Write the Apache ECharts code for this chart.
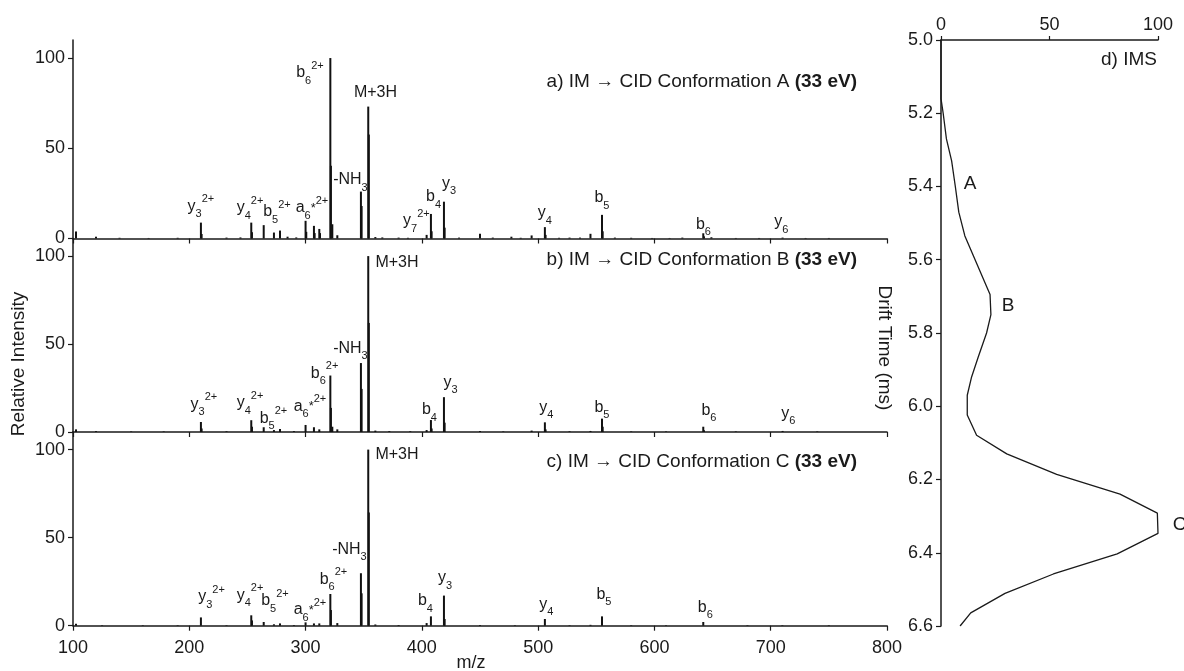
<!DOCTYPE html>
<html>
<head>
<meta charset="utf-8">
<title>IM-CID spectra</title>
<script src="https://cdn.jsdelivr.net/npm/echarts@6/dist/echarts.min.js"></script>
<style>
  html, body { margin: 0; padding: 0; background: #fff; }
  #chart { width: 1184px; height: 671px; }
</style>
</head>
<body>
<div id="chart"></div>
<script>
// sticks of each spectrum: m/z and relative intensity (%)
const mzA = [102.6, 119.8, 140, 165, 190, 210.0, 210.6, 232, 244, 253.3, 253.9, 264.0, 272.8, 278.0, 284.5, 292,
  300.0, 300.6, 307.2, 307.8, 311.8, 312.4, 321.3, 321.8, 323.0, 327.3, 347.6, 348.2, 353.9, 354.4, 360, 366, 380, 388,
  404.1, 407.8, 408.4, 419.0, 419.6, 432, 450.0, 461, 477.0, 485, 494.4, 505.8, 506.4, 518, 527.0, 536, 545.0,
  554.9, 555.5, 566, 580, 598, 613, 624, 642.0, 642.6, 649, 670, 690, 710.2, 730, 750];
const intA = [3.9, 1.0, 0.4, 0.3, 0.4, 8.8, 2.5, 0.5, 0.6, 8.8, 3.5, 7.4, 3.3, 4.4, 1.0, 0.6,
  9.8, 3.7, 7.0, 3.0, 5.3, 3.0, 100, 40.3, 7.9, 1.8, 26, 18, 73.1, 57.6, 0.8, 0.6, 0.5, 0.4,
  2.0, 13.6, 4.0, 20.4, 6.0, 0.5, 2.6, 0.5, 1.0, 0.4, 1.7, 6.3, 2.0, 0.4, 0.5, 0.5, 2.6,
  13.1, 4.0, 0.5, 0.4, 0.3, 0.3, 0.5, 2.9, 1.2, 0.7, 0.3, 0.3, 0.5, 0.3, 0.3];

const mzB = [102.6, 119.8, 150, 178, 210.0, 210.6, 232, 253.3, 253.9, 264.0, 272.8, 278.0, 290, 300.0, 307.2, 311.8,
  321.3, 321.8, 323, 327.3, 347.6, 348.2, 353.9, 354.4, 360, 372, 390, 404.1, 407.8, 408.4, 419.0, 419.6, 450.0, 470,
  494.4, 505.8, 506.4, 527, 545, 554.9, 555.5, 580, 610, 642.0, 642.6, 670, 710.2, 740];
const intB = [1.5, 0.5, 0.3, 0.3, 5.7, 2, 0.4, 6.7, 3, 2.7, 1.1, 1.7, 0.5, 4.0, 2.7, 1.5,
  32.1, 13.7, 3, 1.5, 39.2, 24.5, 100, 62, 0.8, 0.5, 0.4, 1.1, 6.8, 2, 19.8, 5.3, 0.6, 0.3,
  0.8, 5.5, 1.5, 0.4, 0.6, 7.6, 3.0, 0.3, 0.3, 3.0, 1.0, 0.3, 0.6, 0.3];

const mzC = [102.6, 125, 160, 190, 210.0, 232, 253.3, 253.9, 264.0, 272.8, 278.0, 290, 300.0, 307.2, 311.8,
  321.3, 321.8, 327.3, 347.6, 348.2, 353.9, 354.4, 360, 380, 404.1, 407.8, 419.0, 419.6, 450, 480,
  505.8, 527, 545, 554.9, 580, 610, 642.0, 680, 710, 750];
const intC = [1.1, 0.3, 0.3, 0.3, 4.7, 0.3, 5.9, 3.0, 2.1, 0.8, 1.3, 0.4, 1.9, 1.3, 1.3,
  18, 8.9, 1.5, 29.8, 18.4, 100, 64.3, 0.7, 0.4, 1.5, 5.3, 17.1, 3.8, 0.4, 0.3,
  3.8, 0.3, 0.5, 5.3, 0.3, 0.3, 2.1, 0.3, 0.3, 0.3];

// ion annotations: [ion, subscript, superscript, m/z, intensity at the label]
const ionsA = [
  ['y', '3', '2+', 210, 17.5], ['y', '4', '2+', 252.2, 16.9], ['b', '5', '2+', 275.4, 14.7],
  ['a', '6', '*2+', 305.5, 16.9], ['b', '6', '2+', 303.8, 91.7], ['-NH', '3', '', 338.6, 32.4],
  ['M+3H', '', '', 360.1, 81], ['y', '7', '2+', 395.3, 9.7], ['b', '4', '', 410, 23],
  ['y', '3', '', 423.3, 30.7], ['y', '4', '', 505.8, 14.1], ['b', '5', '', 554.9, 22.4],
  ['b', '6', '', 642.1, 7.5], ['y', '6', '', 709.2, 9.1]
];
const ionsB = [
  ['y', '3', '2+', 212.6, 15.4], ['y', '4', '2+', 252.2, 16.5], ['b', '5', '2+', 272.4, 7.7],
  ['a', '6', '*2+', 303.8, 14.3], ['b', '6', '2+', 316.3, 33.4], ['-NH', '3', '', 338.6, 47.6],
  ['M+3H', '', '', 378.6, 96.4], ['b', '4', '', 406.5, 12.5], ['y', '3', '', 424.6, 28],
  ['y', '4', '', 507.1, 13.7], ['b', '5', '', 554.9, 13.7], ['b', '6', '', 646.9, 12],
  ['y', '6', '', 715.2, 10.3]
];
const ionsC = [
  ['y', '3', '2+', 219.1, 16.3], ['y', '4', '2+', 252.2, 16.9], ['b', '5', '2+', 273.7, 14],
  ['a', '6', '*2+', 303.8, 8.9], ['b', '6', '2+', 324, 26.3], ['-NH', '3', '', 337.7, 43.1],
  ['M+3H', '', '', 378.6, 97.2], ['b', '4', '', 403.1, 14], ['y', '3', '', 419.9, 27.1],
  ['y', '4', '', 507.1, 11.8], ['b', '5', '', 556.6, 17.5], ['b', '6', '', 643.8, 10.1]
];

const panelTitles = ['A', 'B', 'C'];
const intensityTicks = [0, 50, 100];

// d) IMS arrival time distribution: intensity (%) vs drift time (ms)
const imsPct = [0, 0, 1, 2.5, 4.9, 6.6, 8.2, 11, 22.6, 23, 21, 17.2, 14.1, 12.1, 12.1, 16.4,
  30.3, 53.3, 82.5, 99.7, 100, 81.2, 51.8, 29.5, 13.7, 8.8];
const imsTime = [5.0, 5.16, 5.2, 5.27, 5.33, 5.4, 5.47, 5.535, 5.695, 5.75, 5.8, 5.865, 5.92, 5.97, 6.024, 6.079,
  6.13, 6.186, 6.24, 6.292, 6.347, 6.403, 6.458, 6.511, 6.564, 6.6];
const confNames = ['A', 'B', 'C'];
const confPct = [13.4, 30.9, 110];
const confTime = [5.393, 5.726, 6.324];

const font = '"Liberation Sans", Arial, Helvetica, sans-serif';
const ink = '#1a1a1a';

const chart = echarts.init(document.getElementById('chart'));

const grids = [
  { left: 73, width: 814, top: 40, height: 198.5 },
  { left: 73, width: 814, top: 238.5, height: 193.5 },
  { left: 73, width: 814, top: 432, height: 193.7 },
  { left: 941, width: 217, top: 40, height: 586 }
];

const xAxes = [0, 1, 2].map(i => ({
  type: 'value', gridIndex: i, min: 100, max: 800, interval: 100,
  axisLine: { onZero: false, lineStyle: { color: ink, width: 1.5 } },
  axisTick: { length: 5, lineStyle: { color: ink, width: 1.2 } },
  axisLabel: { show: i === 2, color: ink, fontSize: 18, fontFamily: font, margin: 13 },
  splitLine: { show: false }
}));
xAxes.push({
  type: 'value', gridIndex: 3, position: 'top', min: 0, max: 100, interval: 50,
  axisLine: { onZero: false, lineStyle: { color: ink, width: 1.5 } },
  axisTick: { length: 4, lineStyle: { color: ink, width: 1.2 } },
  axisLabel: { color: ink, fontSize: 18, fontFamily: font, margin: 6 },
  splitLine: { show: false }
});

const yAxes = [0, 1, 2].map(i => ({
  type: 'value', gridIndex: i, min: 0, max: 110,
  axisLine: { show: true, onZero: false, lineStyle: { color: ink, width: 1.5 } },
  axisTick: { show: true, length: 5, customValues: intensityTicks, lineStyle: { color: ink, width: 1.2 } },
  axisLabel: { color: ink, fontSize: 18, fontFamily: font, margin: 8, customValues: intensityTicks },
  splitLine: { show: false }
}));
yAxes.push({
  type: 'value', gridIndex: 3, inverse: true, min: 5.0, max: 6.6, interval: 0.2,
  axisLine: { show: true, onZero: false, lineStyle: { color: ink, width: 1.5 } },
  axisTick: { show: true, length: 5, lineStyle: { color: ink, width: 1.2 } },
  axisLabel: { color: ink, fontSize: 18, fontFamily: font, margin: 8, formatter: v => v.toFixed(1) },
  splitLine: { show: false }
});

const plain = { color: ink, fontFamily: font, textBorderWidth: 0, textShadowBlur: 0 };
const ionRich = {
  m: Object.assign({ fontSize: 16, lineHeight: 26 }, plain),
  sub: Object.assign({ fontSize: 11, lineHeight: 16, verticalAlign: 'bottom' }, plain),
  sup: Object.assign({ fontSize: 11, lineHeight: 5, verticalAlign: 'top' }, plain),
  star: Object.assign({ fontSize: 13, lineHeight: 26, verticalAlign: 'middle' }, plain)
};

function ionText(ion) {
  const [name, sub, sup] = ion;
  let s = '{m|' + name + '}';
  if (sub) s += '{sub|' + sub + '}';
  if (sup) {
    if (sup[0] === '*') s += '{star|*}{sup|' + sup.slice(1) + '}';
    else s += '{sup|' + sup + '}';
  }
  return s;
}

const spectra = [[mzA, intA, ionsA], [mzB, intB, ionsB], [mzC, intC, ionsC]];
const series = [];
spectra.forEach(([mz, inten, ions], i) => {
  series.push({
    type: 'bar', xAxisIndex: i, yAxisIndex: i, barWidth: 2,
    itemStyle: { color: '#111' },
    data: mz.map((m, k) => [m, inten[k]])
  });
  series.push({
    type: 'scatter', xAxisIndex: i, yAxisIndex: i, symbolSize: 0, silent: true, clip: false,
    itemStyle: { opacity: 1, color: ink },
    label: Object.assign({
      show: true, position: 'inside', opacity: 1,
      formatter: p => ionText(p.data.ion), rich: ionRich
    }, plain),
    data: ions.map(ion => ({ value: [ion[3], ion[4]], ion: ion }))
  });
});

series.push({
  type: 'line', xAxisIndex: 3, yAxisIndex: 3, symbol: 'none',
  lineStyle: { color: ink, width: 1.3 },
  data: imsPct.map((p, k) => [p, imsTime[k]])
});
series.push({
  type: 'scatter', xAxisIndex: 3, yAxisIndex: 3, symbolSize: 0, silent: true, clip: false,
  itemStyle: { opacity: 1, color: ink },
  label: Object.assign({ show: true, position: 'inside', opacity: 1, fontSize: 19, formatter: p => p.name }, plain),
  data: confNames.map((n, k) => ({ name: n, value: [confPct[k], confTime[k]] }))
});

const titleRich = { b: { fontWeight: 'bold', fontSize: 19, fontFamily: font, fill: ink } };
const titleY = [82, 260, 462];
const graphics = panelTitles.map((c, i) => ({
  type: 'text', right: 327, top: titleY[i] - 10,
  style: {
    text: String.fromCharCode(97 + i) + ') IM \u2192 CID Conformation ' + c + ' {b|(33 eV)}',
    fontSize: 19, fontFamily: font, fill: ink, rich: titleRich
  }
}));
graphics.push(
  { type: 'text', x: 19, y: 364, rotation: Math.PI / 2,
    style: { text: 'Relative Intensity', fontSize: 19, fontFamily: font, fill: ink, align: 'center', verticalAlign: 'middle' } },
  { type: 'text', x: 884, y: 348, rotation: -Math.PI / 2,
    style: { text: 'Drift Time (ms)', fontSize: 19, fontFamily: font, fill: ink, align: 'center', verticalAlign: 'middle' } },
  { type: 'text', x: 471, y: 663,
    style: { text: 'm/z', fontSize: 18, fontFamily: font, fill: ink, align: 'center', verticalAlign: 'middle' } },
  { type: 'text', x: 1157, y: 60,
    style: { text: 'd) IMS', fontSize: 19, fontFamily: font, fill: ink, align: 'right', verticalAlign: 'middle' } }
);

chart.setOption({
  animation: false,
  backgroundColor: '#fff',
  textStyle: { fontFamily: font },
  grid: grids,
  xAxis: xAxes,
  yAxis: yAxes,
  series: series,
  graphic: graphics
});
</script>
</body>
</html>
